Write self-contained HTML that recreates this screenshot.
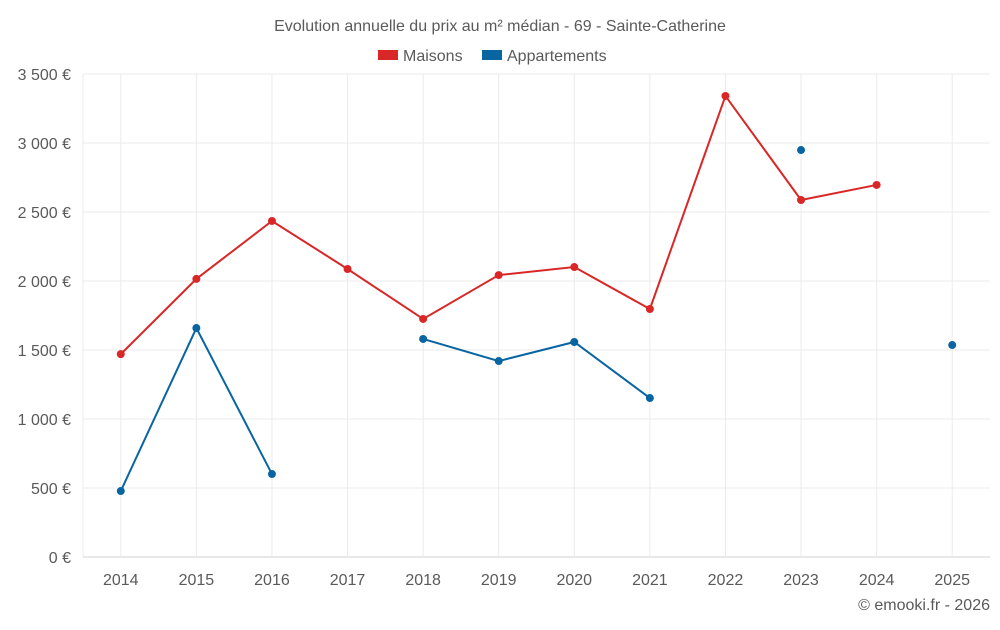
<!DOCTYPE html>
<html><head><meta charset="utf-8"><style>
body{margin:0;background:#fff;font-family:"Liberation Sans",sans-serif;}
svg text{font-family:"Liberation Sans",sans-serif;fill:#5a5a5a;}
</style></head><body>
<svg id="chart" width="1000" height="625">
<text x="500" y="31" text-anchor="middle" font-size="16">Evolution annuelle du prix au m² médian - 69 - Sainte-Catherine</text>
<g>
<rect x="378" y="50" width="20" height="10" fill="#d92727"/>
<text x="403" y="61" font-size="16">Maisons</text>
<rect x="482" y="50" width="20" height="10" fill="#0865a1"/>
<text x="507" y="61" font-size="16">Appartements</text>
</g>
<g id="grid"></g><g id="axes"></g><g id="series"></g>
<text x="990" y="610" text-anchor="end" font-size="16">© emooki.fr - 2026</text>
</svg>
<script>
const categories=["2014","2015","2016","2017","2018","2019","2020","2021","2022","2023","2024","2025"];
const maisons=[1470,2015,2435,2087,1725,2043,2101,1797,3341,2587,2696,null];
const appartements=[478,1659,601,null,1580,1420,1558,1152,null,2949,null,1536];
const yTicks=[0,500,1000,1500,2000,2500,3000,3500];
const yTickLabels=["0 €","500 €","1 000 €","1 500 €","2 000 €","2 500 €","3 000 €","3 500 €"];
const NS="http://www.w3.org/2000/svg";
const L=83,R=990,T=74,B=557,YMAX=3500;
const band=(R-L)/categories.length;
const x=i=>L+band*(i+0.5);
const y=v=>B-(v/YMAX)*(B-T);
function mk(tag,attrs,parent){const e=document.createElementNS(NS,tag);for(const k in attrs)e.setAttribute(k,attrs[k]);parent.appendChild(e);return e;}
const grid=document.getElementById('grid'),axes=document.getElementById('axes'),series=document.getElementById('series');
yTicks.forEach((t,i)=>{
 const g=mk('line',{x1:L,x2:R,y1:y(t),y2:y(t),stroke:t===0?'#d0d0d0':'#ebebeb','stroke-width':1},grid);
 
 
 const tx=mk('text',{x:71,y:y(t)+6,'text-anchor':'end','font-size':16},axes);
 tx.textContent=yTickLabels[i];
 
 
});
const ax=mk('line',{x1:L,x2:L,y1:T,y2:B,stroke:'#ebebeb','stroke-width':1},grid);


categories.forEach((c,i)=>{
 const g=mk('line',{x1:x(i),x2:x(i),y1:T,y2:B,stroke:'#ebebeb','stroke-width':1},grid);
 
 
 const tx=mk('text',{x:x(i),y:585,'text-anchor':'middle','font-size':16},axes);
 tx.textContent=c;
 
 
});
function draw(vals,color,name){
 let d='',pen=false;
 vals.forEach((v,i)=>{if(v==null){pen=false;return;}d+=(pen?'L':'M')+x(i)+' '+y(v)+' ';pen=true;});
 const p=mk('path',{d:d,fill:'none',stroke:color,'stroke-width':2},series);
 
 
 vals.forEach((v,i)=>{if(v==null)return;
  const c=mk('circle',{cx:x(i),cy:y(v),r:4,fill:color},series);
  
  
 });
}
draw(maisons,'#d92727','maisons');
draw(appartements,'#0865a1','appartements');
</script>
</body></html>
